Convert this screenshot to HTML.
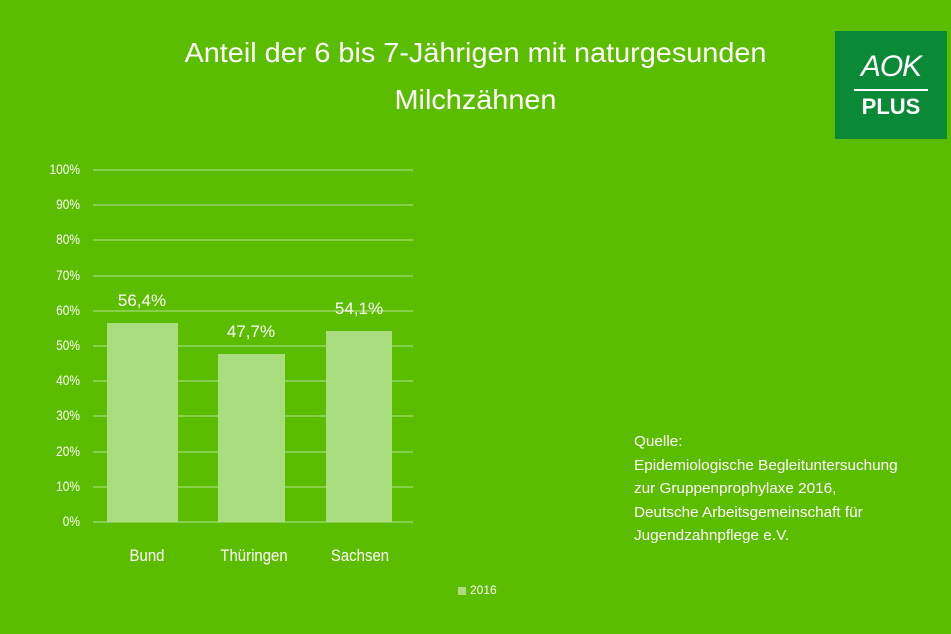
<!DOCTYPE html>
<html><head><meta charset="utf-8"><style>
html,body{margin:0;padding:0}
body{width:951px;height:634px;background:#5bbd00;position:relative;overflow:hidden;font-family:"Liberation Sans",sans-serif;color:#fff}
.t{position:absolute;left:0;width:951px;text-align:center;font-size:28px;line-height:47px;top:29px;transform:scaleX(1.03)}
.g{position:absolute;left:93px;width:320px;height:2px;background:#86d04a}
.yl{position:absolute;left:30px;width:50px;text-align:right;font-size:14px;transform:scaleX(0.85);transform-origin:right}
.b{position:absolute;background:#a9dd80}
.v{position:absolute;font-size:17px;text-align:center;width:100px}
.x{position:absolute;font-size:17px;text-align:center;width:120px;top:546px;transform:scaleX(0.88)}
.q{position:absolute;left:634px;top:430px;font-size:15px;line-height:23.5px;transform:scaleX(1.02);transform-origin:left}
</style></head><body>
<div class="t">Anteil der 6 bis 7-Jährigen mit naturgesunden<br>Milchzähnen</div>
<div style="position:absolute;left:835px;top:31px;width:112px;height:108px;background:#0a8a37"></div>
<div style="position:absolute;left:835px;top:50px;width:112px;text-align:center;font-size:30px;font-style:italic;letter-spacing:-1px">AOK</div>
<div style="position:absolute;left:854px;top:89px;width:74px;height:2px;background:#fff"></div>
<div style="position:absolute;left:835px;top:94px;width:112px;text-align:center;font-size:22px;font-weight:bold">PLUS</div>
<div class="g" style="top:169px"></div><div class="yl" style="top:161px">100%</div>
<div class="g" style="top:204px"></div><div class="yl" style="top:196px">90%</div>
<div class="g" style="top:239px"></div><div class="yl" style="top:231px">80%</div>
<div class="g" style="top:275px"></div><div class="yl" style="top:267px">70%</div>
<div class="g" style="top:310px"></div><div class="yl" style="top:302px">60%</div>
<div class="g" style="top:345px"></div><div class="yl" style="top:337px">50%</div>
<div class="g" style="top:380px"></div><div class="yl" style="top:372px">40%</div>
<div class="g" style="top:415px"></div><div class="yl" style="top:407px">30%</div>
<div class="g" style="top:451px"></div><div class="yl" style="top:443px">20%</div>
<div class="g" style="top:486px"></div><div class="yl" style="top:478px">10%</div>
<div class="g" style="top:521px"></div><div class="yl" style="top:513px">0%</div>
<div class="b" style="left:107px;top:323px;width:71px;height:199px"></div>
<div class="b" style="left:218px;top:354px;width:67px;height:168px"></div>
<div class="b" style="left:326px;top:331px;width:66px;height:191px"></div>
<div class="v" style="left:92px;top:291px">56,4%</div>
<div class="v" style="left:201px;top:322px">47,7%</div>
<div class="v" style="left:309px;top:299px">54,1%</div>
<div class="x" style="left:87px">Bund</div>
<div class="x" style="left:194px">Thüringen</div>
<div class="x" style="left:300px">Sachsen</div>
<div style="position:absolute;left:458px;top:587px;width:8px;height:8px;background:#a9dd80"></div>
<div style="position:absolute;left:470px;top:583px;font-size:12px">2016</div>
<div class="q">Quelle:<br>Epidemiologische Begleituntersuchung<br>zur Gruppenprophylaxe 2016,<br>Deutsche Arbeitsgemeinschaft für<br>Jugendzahnpflege e.V.</div>
</body></html>
